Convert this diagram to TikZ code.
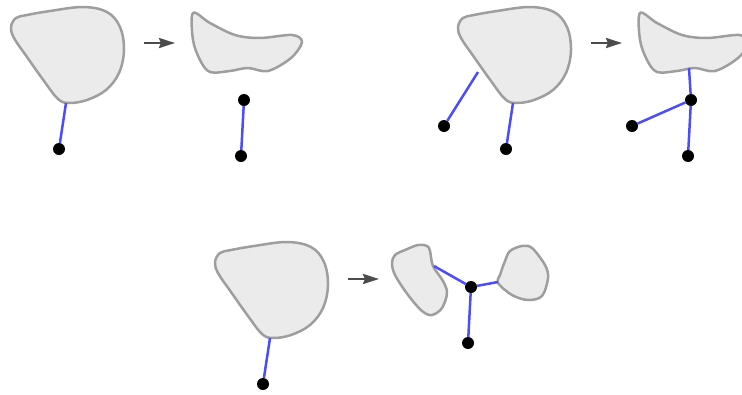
\documentclass[tikz,border=0pt]{standalone}
\usetikzlibrary{arrows.meta}
\begin{document}
\begin{tikzpicture}[x=1pt,y=-1pt,
  blob/.style={draw=black!38,fill=black!8,line width=2.5pt,line join=round},
  link/.style={draw=blue!70!white,line width=2.5pt},
  dot/.style={circle,fill=black,inner sep=0pt,minimum size=12pt},
  mapto/.style={draw=black!70,line width=2.5pt,-{Stealth[length=16pt,width=10pt,inset=2pt]}}]
\useasboundingbox (0,0) rectangle (742,394);
\newcommand\blobA{plot[smooth cycle,tension=0.6] coordinates {(11,27) (16,18) (27,15) (50,11) (83,7) (107,12) (120,27) (124,50) (119,73) (106,90) (87,100) (69,103) (58,99) (44,81) (27,57) (14,38)}}
\newcommand\blobB{plot[smooth cycle,tension=0.55] coordinates {(193,13) (210,23) (235,35) (260,38) (292,35) (302,42) (291,58) (268,71) (248,68) (230,71) (210,72) (200,60) (193,40)}}
% ---------- group 1
\path[blob] \blobA;
\coordinate (a1) at (66,103);
\node[dot] (d1) at (59,149) {};
\draw[link] (a1) -- (d1);
\coordinate (r1s) at (144,43); \coordinate (r1e) at (175,43);
\draw[mapto] (r1s) -- (r1e);
\path[blob] \blobB;
\node[dot] (d2) at (244,100) {};
\node[dot] (d3) at (241,156) {};
\draw[link] (d2) -- (d3);
% ---------- group 2
\begin{scope}[xshift=447pt]
\path[blob] \blobA;
\end{scope}
\coordinate (a2) at (478,72);
\coordinate (a3) at (513,103);
\node[dot] (d4) at (444,126) {};
\node[dot] (d5) at (506,149) {};
\draw[link] (a2) -- (d4);
\draw[link] (a3) -- (d5);
\coordinate (r2s) at (591,43); \coordinate (r2e) at (622,43);
\draw[mapto] (r2s) -- (r2e);
\begin{scope}[xshift=447pt]
\path[blob] \blobB;
\end{scope}
\coordinate (a4) at (689,68);
\node[dot] (d6) at (691,100) {};
\node[dot] (d7) at (632,126) {};
\node[dot] (d8) at (688,156) {};
\draw[link] (a4) -- (d6) -- (d8);
\draw[link] (d6) -- (d7);
% ---------- group 3
\begin{scope}[xshift=204pt,yshift=-235pt]
\path[blob] \blobA;
\end{scope}
\coordinate (a5) at (270,338);
\node[dot] (d9) at (263,384) {};
\draw[link] (a5) -- (d9);
\coordinate (r3s) at (348,279); \coordinate (r3e) at (379,279);
\draw[mapto] (r3s) -- (r3e);
\path[blob] plot[smooth cycle,tension=0.55] coordinates {(395,255) (405,250) (418,245) (427,246) (430,251) (433,266) (443,281) (447,293) (442,308) (432,315) (422,311) (408,295) (395,275) (392,263)};
\path[blob] plot[smooth cycle,tension=0.55] coordinates {(510,251) (522,246) (532,248) (545,265) (548,278) (542,296) (528,300) (512,295) (498,283) (500,275) (505,261)};
\coordinate (a6) at (434,266);
\coordinate (a7) at (498,282);
\node[dot] (d10) at (471,287) {};
\node[dot] (d11) at (468,343) {};
\draw[link] (a6) -- (d10) -- (a7);
\draw[link] (d10) -- (d11);
\end{tikzpicture}
\end{document}
